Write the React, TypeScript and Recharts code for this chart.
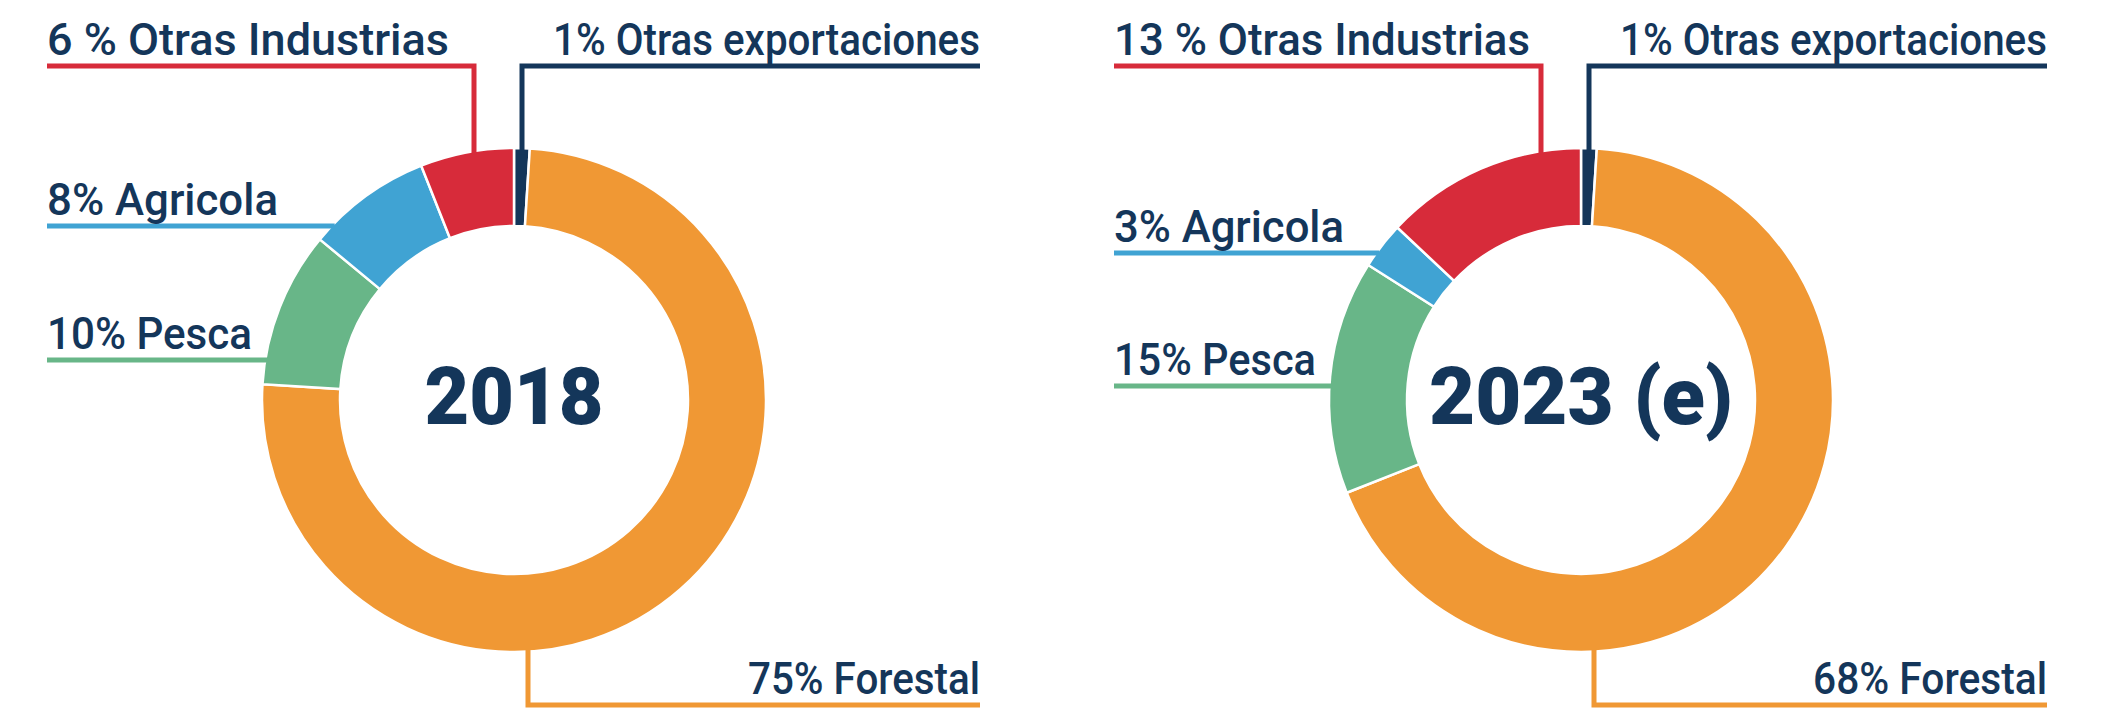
import { Cell, Pie, PieChart } from "recharts";

const categories = ["Otras exportaciones", "Forestal", "Pesca", "Agricola", "Otras Industrias"];
const values2018 = [1, 75, 10, 8, 6];
const values2023 = [1, 68, 15, 3, 13];
const labels2018 = ["1% Otras exportaciones", "75% Forestal", "10% Pesca", "8% Agricola", "6 % Otras Industrias"];
const labels2023 = ["1% Otras exportaciones", "68% Forestal", "15% Pesca", "3% Agricola", "13 % Otras Industrias"];
const centerTitles = ["2018", "2023 (e)"];

const NAVY = "#14365a";
const sliceColors = [NAVY, "#f09834", "#68b688", "#40a3d3", "#d72b3a"];

const W = 2104;
const H = 708;
const CY = 400;
const INNER = 174;
const OUTER = 252;
const TEXT_LEFT = -467;
const TEXT_RIGHT = 466;
const FONT = "Roboto, 'Liberation Sans', sans-serif";

type Kind = "topLeft" | "topRight" | "bottomRight" | "left";
interface LabelLayout {
  kind: Kind;
  y: number; // underline y
  elbow?: number; // x offset from cx for vertical leader
  w: number; // text length
}

const layout2018: LabelLayout[] = [
  { kind: "topRight", y: 66, elbow: 8, w: 427 },
  { kind: "bottomRight", y: 705, elbow: 14, w: 232 },
  { kind: "left", y: 360, w: 205 },
  { kind: "left", y: 226, w: 231 },
  { kind: "topLeft", y: 66, elbow: -40, w: 402 },
];
const layout2023: LabelLayout[] = [
  { kind: "topRight", y: 66, elbow: 8, w: 427 },
  { kind: "bottomRight", y: 705, elbow: 13, w: 234 },
  { kind: "left", y: 386, w: 202 },
  { kind: "left", y: 253, w: 230 },
  { kind: "topLeft", y: 66, elbow: -40, w: 416 },
];

function makeLabel(texts: string[], layout: LabelLayout[], title: string, titleW: number) {
  return (props: any) => {
    const { cx, cy, outerRadius, index } = props;
    const lay = layout[index];
    const color = sliceColors[index];
    const left = cx + TEXT_LEFT;
    const right = cx + TEXT_RIGHT;
    const ringY = (dx: number) => Math.sqrt(outerRadius * outerRadius - dx * dx);
    let d = "";
    let tx = left;
    let anchor: "start" | "end" = "start";
    if (lay.kind === "left") {
      const dy = lay.y - cy;
      const ringX = cx - Math.sqrt(outerRadius * outerRadius - dy * dy);
      d = `M${left},${lay.y}H${ringX + 3}`;
    } else if (lay.kind === "topLeft") {
      const ex = cx + (lay.elbow ?? 0);
      d = `M${left},${lay.y}H${ex}V${cy - ringY(lay.elbow ?? 0) + 3}`;
    } else if (lay.kind === "topRight") {
      const ex = cx + (lay.elbow ?? 0);
      d = `M${right},${lay.y}H${ex}V${cy - ringY(lay.elbow ?? 0) + 6}`;
      tx = right;
      anchor = "end";
    } else {
      const ex = cx + (lay.elbow ?? 0);
      d = `M${right},${lay.y}H${ex}V${cy + ringY(lay.elbow ?? 0) - 3}`;
      tx = right;
      anchor = "end";
    }
    return (
      <g key={`lbl-${index}`}>
        <path d={d} stroke={color} strokeWidth={5} fill="none" strokeLinejoin="miter" />
        <text
          x={tx}
          y={lay.y - 11.5}
          textAnchor={anchor}
          textLength={lay.w}
          lengthAdjust="spacingAndGlyphs"
          fill={NAVY}
          stroke="none"
          fontFamily={FONT}
          fontWeight={500}
          fontSize={44}
        >
          {texts[index]}
        </text>
        {index === 0 && (
          <text
            x={cx}
            y={cy + 24}
            textAnchor="middle"
            textLength={titleW}
            lengthAdjust="spacingAndGlyphs"
            fill={NAVY}
            stroke="none"
            fontFamily={FONT}
            fontWeight={900}
            fontSize={80}
          >
            {title}
          </text>
        )}
      </g>
    );
  };
}

const data2018 = categories.map((name, i) => ({ name, value: values2018[i] }));
const data2023 = categories.map((name, i) => ({ name, value: values2023[i] }));

export default function App() {
  return (
    <div style={{ position: "absolute", left: 0, top: 0, width: W, height: H, background: "#fff" }}>
      <PieChart width={W} height={H} margin={{ top: 0, right: 0, bottom: 0, left: 0 }}>
        <Pie
          data={data2018}
          dataKey="value"
          nameKey="name"
          cx={514}
          cy={CY}
          innerRadius={INNER}
          outerRadius={OUTER}
          startAngle={90}
          endAngle={-270}
          stroke="#ffffff"
          strokeWidth={2.5}
          label={makeLabel(labels2018, layout2018, centerTitles[0], 179)}
          labelLine={false}
          isAnimationActive={false}
        >
          {data2018.map((d, i) => (
            <Cell key={d.name} fill={sliceColors[i]} />
          ))}
        </Pie>
        <Pie
          data={data2023}
          dataKey="value"
          nameKey="name"
          cx={1581}
          cy={CY}
          innerRadius={INNER}
          outerRadius={OUTER}
          startAngle={90}
          endAngle={-270}
          stroke="#ffffff"
          strokeWidth={2.5}
          label={makeLabel(labels2023, layout2023, centerTitles[1], 304)}
          labelLine={false}
          isAnimationActive={false}
        >
          {data2023.map((d, i) => (
            <Cell key={d.name} fill={sliceColors[i]} />
          ))}
        </Pie>
      </PieChart>
    </div>
  );
}
